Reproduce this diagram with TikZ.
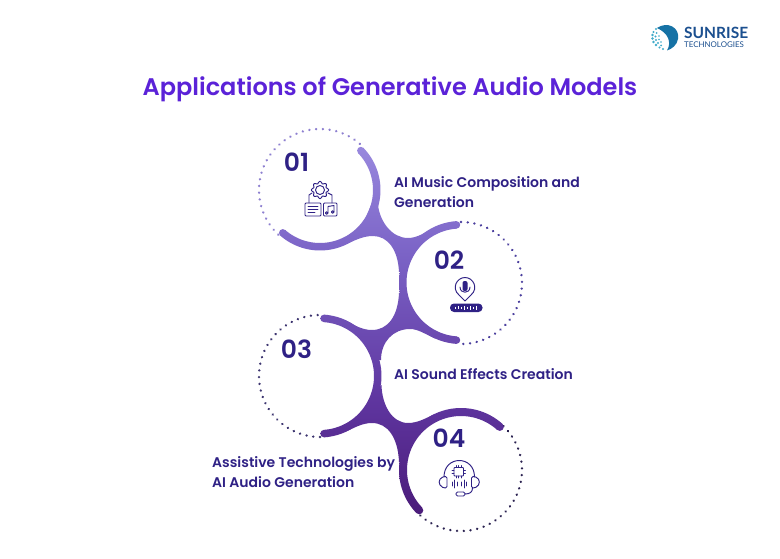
\documentclass[tikz,border=0pt]{standalone}
\usepackage{fontspec}
\setmainfont{Poppins}[BoldFont={Poppins SemiBold}]
\newfontfamily\logofont{Lato}
\definecolor{ink}{HTML}{2F2185}
\definecolor{titlec}{HTML}{5B22D8}
\definecolor{logoblue}{HTML}{1B4F8F}
\definecolor{spA}{HTML}{9A8ADF}
\definecolor{spB}{HTML}{7B63C6}
\definecolor{spC}{HTML}{5F36A0}
\definecolor{spD}{HTML}{4A1A78}
\definecolor{ringA}{RGB}{141,127,208}
\definecolor{ringB}{RGB}{75,63,158}
\definecolor{ringC}{RGB}{61,53,112}
\definecolor{ringD}{RGB}{42,33,80}
\pgfdeclareverticalshading{spine}{100bp}{
 color(0bp)=(spD); color(25bp)=(spD); color(41bp)=(spC); color(60bp)=(spB); color(75bp)=(spA); color(100bp)=(spA)}
\newcommand\spinepiece[1]{\begin{scope}\clip #1;\shade[shading=spine] (0,140) rectangle (780,520);\end{scope}}
\newcommand\spineband[6]{%
 \spinepiece{plot[domain=#5:#6,samples=60] ({#1+#3*cos(\x)},{#2+#3*sin(\x)}) -- plot[domain=#6:#5,samples=60] ({#1+#4*cos(\x)},{#2+#4*sin(\x)}) -- cycle}%
 \spinepiece{({#1+(#3+#4)/2*cos(#5)},{#2+(#3+#4)/2*sin(#5)}) circle[radius={(#4-#3)/2}]}%
 \spinepiece{({#1+(#3+#4)/2*cos(#6)},{#2+(#3+#4)/2*sin(#6)}) circle[radius={(#4-#3)/2}]}}
\tikzset{
 dotring/.style={line width=2.6pt,line cap=round,dash pattern=on 0.01pt off 6.75pt},
 iconline/.style={draw=ink,line width=0.95pt,line cap=round,line join=round},
 heading/.style={text=titlec,font=\fontsize{24}{28}\selectfont\bfseries,inner sep=0pt},
 numlabel/.style={text=ink,font=\fontsize{25}{28}\selectfont\bfseries,inner sep=0pt},
 itemlabel/.style={text=ink,font=\fontsize{14}{20}\selectfont\bfseries,inner sep=0pt,align=left,anchor=west}
}
\begin{document}
\begin{tikzpicture}[x=1pt,y=-1pt]
\useasboundingbox (0,0) rectangle (780,559);
\fill[white] (0,0) rectangle (780,559);
% dotted rings
\draw[dotring,color=ringA] plot[domain=133:315,samples=80] ({320+61*cos(\x)},{190+61*sin(\x)});
\draw[dotring,color=ringB] plot[domain=-90:90,samples=80] ({461+61*cos(\x)},{283+61*sin(\x)});
\draw[dotring,color=ringC] plot[domain=90:270,samples=80] ({320+61*cos(\x)},{376+61*sin(\x)});
\draw[dotring,color=ringD] plot[domain=-46:138,samples=80] ({461+61*cos(\x)},{470+61*sin(\x)});
% spine
\spineband{320}{190}{53}{60.5}{-44}{131}
\spineband{460.5}{282.5}{54}{61.5}{94}{266}
\spineband{320}{376}{54}{61.5}{-86}{86}
\spineband{461}{470}{54}{62}{136}{312}
\spinepiece{(378,205) .. controls (380,222) and (392,238) .. (408,238) .. controls (417,238) and (424,233) .. (434,228) -- (434,233) -- (417,246) -- (406,270) -- (399,272) .. controls (398,250) and (388,236) .. (373,236) .. controls (362,236) and (354,241) .. (343,245.5) -- (360,232) -- (371,205) -- cycle}
\spinepiece{(399,293) .. controls (398,316) and (388,330) .. (372,330) .. controls (362,330) and (354,325) .. (345,320) -- (350,326) -- (365,338) -- (375,360) -- (381,360) .. controls (381,342) and (393,329) .. (410,329) .. controls (418,329) and (425,334) .. (435,338.5) -- (432,332) -- (415,318) -- (405,290) -- cycle}
\spinepiece{(399,462) .. controls (398,438) and (388,423) .. (372,423) .. controls (362,423) and (354,428) .. (345,432) -- (350,426) -- (365,414) -- (375,392) -- (381.5,385) .. controls (382,405) and (392,423) .. (408,423) .. controls (418,423) and (426,418) .. (435,414) -- (432,420) -- (415,436) -- (405,462) -- cycle}
% texts
\node[heading] (title) at (390,89) {Applications of Generative Audio Models};
\node[numlabel] (n1) at (296.5,162) {01};
\node[numlabel] (n2) at (449,260) {02};
\node[numlabel] (n3) at (296.5,349) {03};
\node[numlabel] (n4) at (449,438) {04};
\node[itemlabel] (t1) at (394,192) {AI Music Composition and\\Generation};
\node[itemlabel] (t2) at (394,374) {AI Sound Effects Creation};
\node[itemlabel] (t3) at (212,472) {Assistive Technologies by\\AI Audio Generation};
% icon 1
\draw[iconline] plot[domain=0:360,samples=121,smooth] ({320+7.6*(1+0.13*cos(8*\x))*cos(\x)},{190+7.6*(1+0.13*cos(8*\x))*sin(\x)}) -- cycle;
\draw[iconline] (320,190) circle[radius=4.5pt];
\draw[iconline] (309,203) -- (309,195) -- (312,193);
\draw[iconline] (332,203) -- (332,195) -- (328,193);
\draw[iconline,rounded corners=1pt] (305,203) rectangle (321,216);
\draw[iconline,rounded corners=1pt] (323.5,203) rectangle (337,216);
\draw[iconline] (308,206.5) -- (318,206.5) (308,209.5) -- (318,209.5) (308,212.5) -- (315,212.5);
\draw[iconline] (328,206.5) -- (334,205.5) -- (334,212) (328,206.5) -- (328,213);
\draw[iconline] (326.7,213) circle[radius=1.3pt] (332.7,212) circle[radius=1.3pt];
% icon 2
\draw[iconline] (465,301) -- (459,295) .. controls (451,288) and (457,277.5) .. (465,277.5) .. controls (473,277.5) and (479,288) .. (471,295) -- cycle;
\fill[ink,rounded corners=2pt] (462.5,281) rectangle (467.5,291);
\draw[iconline] (460,287) .. controls (460,294) and (470,294) .. (470,287);
\fill[ink,rounded corners=4pt] (450,303.5) rectangle (482.5,312);
\foreach \px/\ph in {455/1,458/1.5,461/1,464/2,467/1,470/1.8,473/1,476/2.2}
 \draw[white,line width=0.6pt] (\px,307.8-\ph) -- (\px,307.8+\ph);
% icon 4
\draw[iconline] (444,477) .. controls (444,455) and (474.5,455) .. (474.5,477);
\draw[iconline,rounded corners=1.5pt] (447,476.5) -- (447,488) -- (444,488) .. controls (438,485) and (438,479) .. (444,476.5) -- cycle;
\draw[iconline,rounded corners=1.5pt] (471.5,476.5) -- (471.5,488) -- (474.5,488) .. controls (480.5,485) and (480.5,479) .. (474.5,476.5) -- cycle;
\draw[iconline,rounded corners=0.8pt] (454,467.5) rectangle (463.5,476);
\foreach \pt in {456,458.7,461.4} \draw[iconline,line width=0.6pt] (\pt,465.5) -- (\pt,467.5) (\pt,476) -- (\pt,478);
\draw[iconline,line width=0.6pt] (452,470) -- (454,470) (452,473) -- (454,473) (463.5,470) -- (465.5,470) (463.5,473) -- (465.5,473);
\foreach \px/\ph in {452/2,454.5/4,457/2,461.5/2,464/4,466.5/2}
 \draw[iconline,line width=0.7pt] (\px,484-\ph) -- (\px,484+\ph);
\draw[iconline] (472.5,488) .. controls (472.5,492) and (470,494) .. (465,494);
\draw[iconline,rounded corners=1.5pt] (456,492) rectangle (465,496);
% logo
\fill[logoblue!80!cyan] (657,28) .. controls (667,21) and (680,27) .. (678,39) .. controls (677,45) and (672,49) .. (667,50.5) .. controls (672,42) and (668,33) .. (657,28) -- cycle;
\foreach \dx/\dy/\dr in {656/29/1.2,653.5/32/1.2,652.5/35/1.3,652.5/38.5/1.3,653.5/42/1.3,656/45/1.3,659.5/47.5/1.2,663/49/1.1,656.5/33/1,655.5/36.5/1.1,656/40/1.1,658/43/1.1,661/45.5/1,659/36/.9,659/39.5/.9,661/42/.9}
 \fill[logoblue!60!cyan!80!white] (\dx,\dy) circle[radius=\dr pt];
\node[inner sep=0pt,anchor=west,text=logoblue,font=\logofont\fontsize{15.5}{16}\selectfont\bfseries] (logo1) at (684,33) {SUNRISE};
\node[inner sep=0pt,anchor=west,text=logoblue,font=\logofont\fontsize{7.9}{8}\selectfont] (logo2) at (684,44.5) {TECHNOLOGIES};
\end{tikzpicture}
\end{document}
